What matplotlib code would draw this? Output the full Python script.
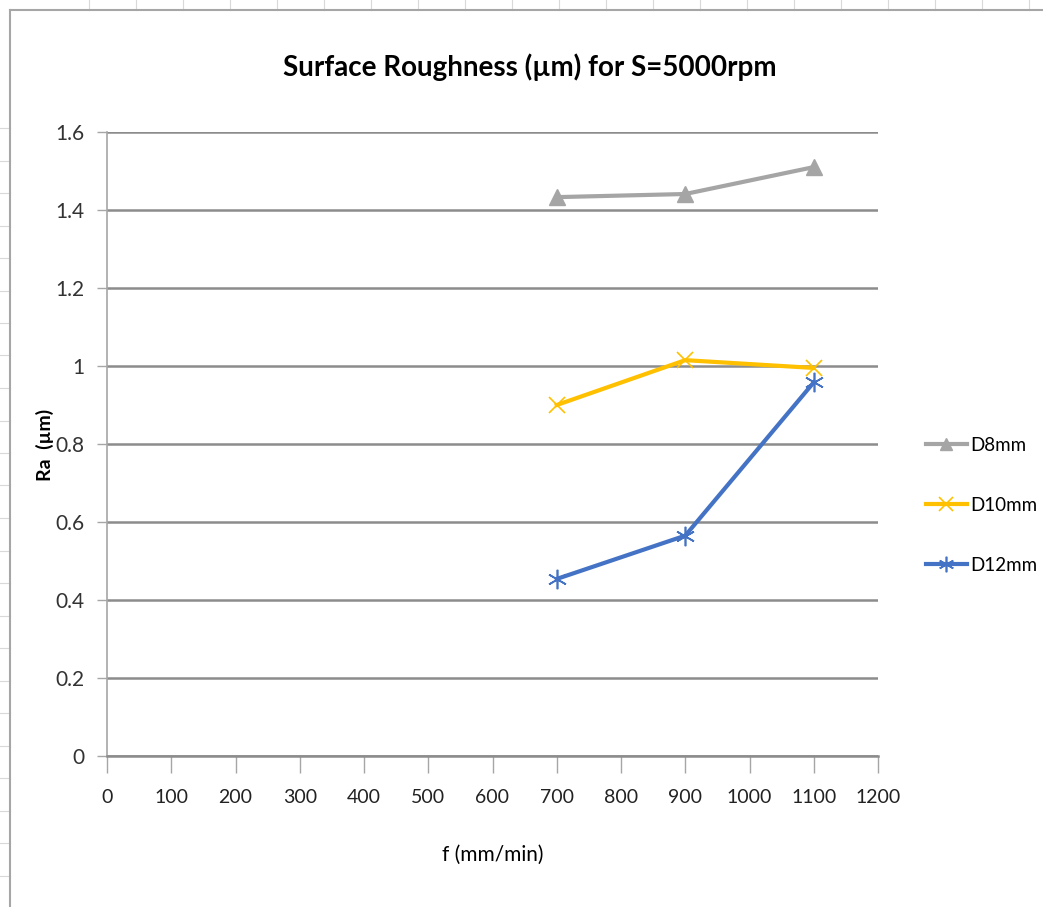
import numpy as np
import matplotlib
matplotlib.use('Agg')
import matplotlib.pyplot as plt
from matplotlib.lines import Line2D

plt.rcParams['font.family'] = ['Lato', 'DejaVu Sans']

feed = [700, 900, 1100]
ra_d8 = [1.433, 1.441, 1.510]
ra_d10 = [0.900, 1.015, 0.995]
ra_d12 = [0.454, 0.565, 0.958]
series_names = ['D8mm', 'D10mm', 'D12mm']

x_ticks = list(range(0, 1300, 100))
y_ticks = [0, 0.2, 0.4, 0.6, 0.8, 1.0, 1.2, 1.4, 1.6]
y_labels = ['0', '0.2', '0.4', '0.6', '0.8', '1', '1.2', '1.4', '1.6']

W, H = 1043, 907
fig = plt.figure(figsize=(W / 100, H / 100), dpi=100)

# spreadsheet background behind the chart
for yy in np.arange(128, 907, 32.5):
    fig.add_artist(Line2D([0, 10 / W], [1 - yy / H] * 2, color='#d9d9d9', lw=0.8))
for xx in np.arange(89, 1043, 47):
    fig.add_artist(Line2D([xx / W] * 2, [1, 1 - 10 / H], color='#d9d9d9', lw=0.8))
fig.add_artist(Line2D([10 / W, 10 / W], [0, 1 - 10 / H], color='#a6a6a6', lw=1.5))
fig.add_artist(Line2D([10 / W, 1], [1 - 10 / H, 1 - 10 / H], color='#a6a6a6', lw=1.5))

ax = fig.add_axes([107 / W, 1 - 756 / H, (878 - 107) / W, (756 - 132) / H])

ax.plot(feed, ra_d8, color='#A5A5A5', lw=3, marker='^', ms=11,
        label=series_names[0], zorder=3)
ax.plot(feed, ra_d10, color='#FFC000', lw=3, marker='x', ms=12, mew=1.2,
        label=series_names[1], zorder=3)
ax.plot(feed, ra_d12, color='#4472C4', lw=3, marker=(6, 2, 0), ms=14, mew=1.2,
        label=series_names[2], zorder=3)

ax.set_xlim(0, 1200)
ax.set_ylim(0, 1.6)
ax.set_xticks(x_ticks)
ax.set_yticks(y_ticks)
ax.set_yticklabels(y_labels)
ax.yaxis.grid(True, color='#8c8c8c', lw=1.8)
ax.set_axisbelow(True)

for s in ['top', 'right']:
    ax.spines[s].set_visible(False)
ax.spines['left'].set_color('#a6a6a6')
ax.spines['left'].set_linewidth(1.2)
ax.spines['bottom'].set_color('#8c8c8c')
ax.spines['bottom'].set_linewidth(1.8)

ax.tick_params(axis='x', length=12, width=1, color='#a6a6a6', labelsize=14,
               pad=12, labelcolor='#222222')
ax.tick_params(axis='y', length=7, width=1, color='#a6a6a6', labelsize=15,
               pad=9, labelcolor='#333333')

ax.set_xlabel('f (mm/min)', fontsize=15, va='center')
ax.xaxis.set_label_coords(0.5, -(855 - 756) / 624)
ax.set_ylabel('Ra  (µm)', fontsize=14, fontweight='bold', va='center')
ax.yaxis.set_label_coords(-(107 - 45) / 771, (756 - 445) / 624)

fig.text(530 / W, 1 - 67 / H, 'Surface Roughness (µm) for S=5000rpm',
         ha='center', va='center', fontsize=20, fontweight='bold')

ax.legend(loc='center left', bbox_to_anchor=(1.04, 0.402), frameon=False,
          fontsize=13.5, handlelength=2.2, labelspacing=2.3, handletextpad=0.2,
          markerscale=0.8)

fig.savefig('out.png', dpi=100)
